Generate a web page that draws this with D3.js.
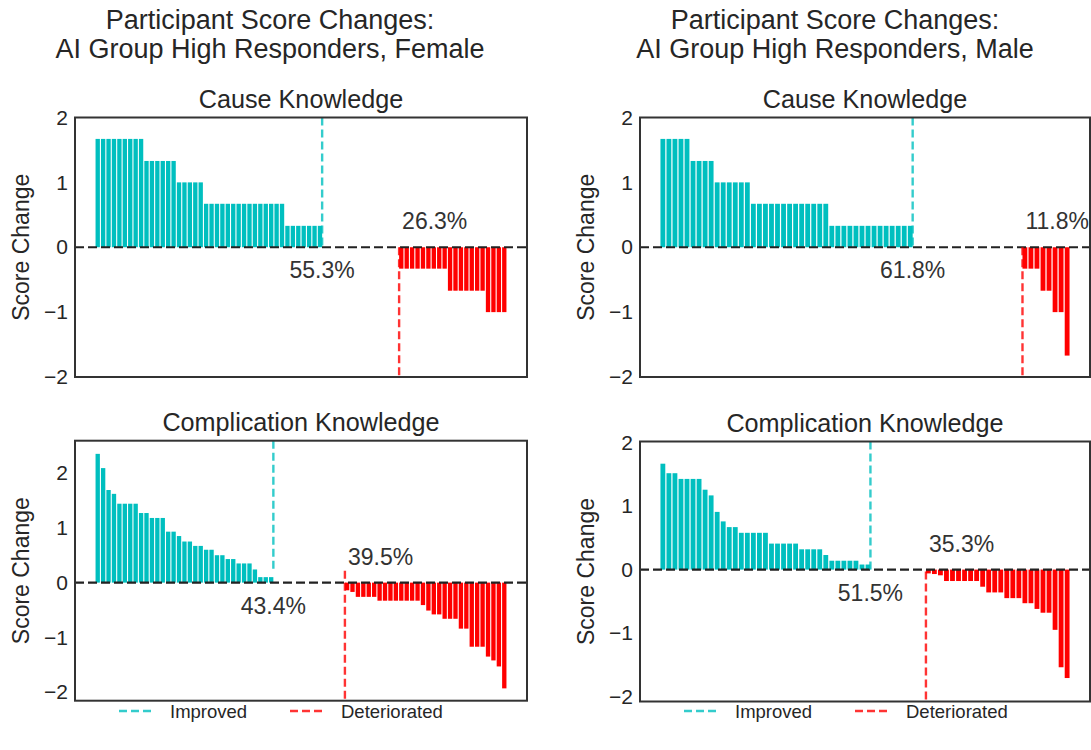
<!DOCTYPE html>
<html>
<head>
<meta charset="utf-8">
<script src="https://cdn.jsdelivr.net/npm/d3@7"></script>
<style>
  body { margin: 0; background: #fff; }
  svg { font-family: "Liberation Sans", Arial, sans-serif; }
</style>
</head>
<body>
<div id="chart"></div>
<script>
// score changes per participant, sorted high to low
var femaleCause = [
  1.67,1.67,1.67,1.67,1.67,1.67,1.67,1.67,1.67,
  1.33,1.33,1.33,1.33,1.33,1.33,
  1.0,1.0,1.0,1.0,1.0,
  0.67,0.67,0.67,0.67,0.67,0.67,0.67,0.67,0.67,0.67,0.67,0.67,0.67,0.67,0.67,
  0.33,0.33,0.33,0.33,0.33,0.33,0.33,
  0,0,0,0,0,0,0,0,0,0,0,0,0,0,
  -0.33,-0.33,-0.33,-0.33,-0.33,-0.33,-0.33,-0.33,-0.33,
  -0.67,-0.67,-0.67,-0.67,-0.67,-0.67,-0.67,
  -1.0,-1.0,-1.0,-1.0
];
var maleCause = [
  1.67,1.67,1.67,1.67,1.67,
  1.33,1.33,1.33,1.33,
  1.0,1.0,1.0,1.0,1.0,1.0,
  0.67,0.67,0.67,0.67,0.67,0.67,0.67,0.67,0.67,0.67,0.67,0.67,0.67,
  0.33,0.33,0.33,0.33,0.33,0.33,0.33,0.33,0.33,0.33,0.33,0.33,0.33,0.33,
  0,0,0,0,0,0,0,0,0,0,0,0,0,0,0,0,0,0,
  -0.33,-0.33,-0.33,-0.67,-0.67,-1.0,-1.0,-1.67
];
var femaleComp = [
  2.35,2.09,1.69,1.62,1.44,1.44,1.44,1.44,1.27,1.27,1.18,1.18,1.18,
  0.93,0.93,0.85,0.75,0.75,0.67,0.67,0.60,0.60,0.50,0.50,0.43,0.43,
  0.35,0.35,0.35,0.24,0.10,0.10,0.10,
  0,0,0,0,0,0,0,0,0,0,0,0,0,
  -0.14,-0.17,-0.26,-0.26,-0.26,-0.26,
  -0.33,-0.33,-0.33,-0.33,-0.33,-0.33,-0.33,-0.33,
  -0.41,-0.51,-0.58,-0.58,-0.66,-0.66,-0.66,-0.84,-0.84,
  -1.17,-1.17,-1.17,-1.35,-1.42,-1.53,-1.93
];
var maleComp = [
  1.67,1.52,1.52,1.43,1.43,1.43,1.43,1.26,1.17,0.91,0.76,0.67,0.67,
  0.58,0.58,0.58,0.58,0.58,0.41,0.41,0.41,0.41,0.41,
  0.32,0.32,0.32,0.32,0.23,0.14,0.14,0.14,0.14,0.14,0.08,0.08,
  0,0,0,0,0,0,0,0,0,
  -0.06,-0.07,-0.09,-0.18,-0.18,-0.18,-0.18,-0.18,-0.18,-0.27,
  -0.36,-0.36,-0.36,-0.45,-0.45,-0.45,-0.53,-0.53,-0.62,-0.68,-0.68,
  -0.95,-1.54,-1.71
];

var groupTitles = ["Participant Score Changes:", "AI Group High Responders, "];
var groupNames = ["Female", "Male"];
var panelTitles = ["Cause Knowledge", "Complication Knowledge"];
var yTicks = [-2, -1, 0, 1, 2];
var legendLabels = ["Improved", "Deteriorated"];

var W = 1091, H = 750;
var cyan = "#00bfbf", red = "#ff0000";
var textCol = "#262626";

var svg = d3.select("#chart").append("svg")
    .attr("width", W).attr("height", H);

var panels = [
  {data: femaleCause, col: 0, row: 0, x0: 75, x1: 527, y0: 117.5, y1: 377, ylim: [-2, 2]},
  {data: maleCause, col: 1, row: 0, x0: 640, x1: 1090, y0: 117.5, y1: 377, ylim: [-2, 2]},
  {data: femaleComp, col: 0, row: 1, x0: 75, x1: 527, y0: 440.7, y1: 700.7, ylim: [-2.155, 2.59]},
  {data: maleComp, col: 1, row: 1, x0: 640, x1: 1090, y0: 441.5, y1: 701.5, ylim: [-2.08, 2.02]}
];

var pct = d3.format(".1%");

panels.forEach(function(p) {
    var n = p.data.length;
    var pad = 0.05 * (n - 1 + 0.8);
    var x = d3.scaleLinear().domain([-0.4 - pad, n - 0.6 + pad]).range([p.x0, p.x1]);
    var y = d3.scaleLinear().domain(p.ylim).range([p.y1, p.y0]);
    var g = svg.append("g");

    var nPos = p.data.filter(function(v) { return v > 0; }).length;
    var nNeg = p.data.filter(function(v) { return v < 0; }).length;

    g.selectAll("rect.bar").data(p.data).enter().append("rect")
        .attr("class", "bar")
        .attr("x", function(d, i) { return x(i - 0.4); })
        .attr("width", x(0.8) - x(0))
        .attr("y", function(d) { return y(Math.max(0, d)); })
        .attr("height", function(d) { return Math.abs(y(d) - y(0)); })
        .attr("fill", function(d) { return d > 0 ? cyan : red; });

    // zero line
    g.append("line")
        .attr("x1", p.x0).attr("x2", p.x1)
        .attr("y1", y(0)).attr("y2", y(0))
        .attr("stroke", "#222").attr("stroke-width", 2.2)
        .attr("stroke-dasharray", "9,4");

    var ymid = (p.y0 + p.y1) / 2;
    var xImp = x(nPos - 1 + 0.4);
    var xDet = x(n - nNeg - 0.4);
    g.append("line")
        .attr("x1", xImp).attr("x2", xImp).attr("y1", p.y0).attr("y2", ymid)
        .attr("stroke", cyan).attr("stroke-opacity", 0.8).attr("stroke-width", 2.4)
        .attr("stroke-dasharray", "8,4");
    g.append("line")
        .attr("x1", xDet).attr("x2", xDet).attr("y1", ymid).attr("y2", p.y1)
        .attr("stroke", red).attr("stroke-opacity", 0.8).attr("stroke-width", 2.4)
        .attr("stroke-dasharray", "8,4");

    g.append("text")
        .attr("x", xImp).attr("y", y(0) + 31)
        .attr("text-anchor", "middle")
        .attr("font-size", 23).attr("fill", "#333")
        .text(pct(nPos / n));
    g.append("text")
        .attr("x", xDet + 3).attr("y", y(0) - 18)
        .attr("text-anchor", "start")
        .attr("font-size", 23).attr("fill", "#333")
        .text(pct(nNeg / n));

    // frame
    g.append("rect")
        .attr("x", p.x0).attr("y", p.y0)
        .attr("width", p.x1 - p.x0).attr("height", p.y1 - p.y0)
        .attr("fill", "none").attr("stroke", "#333").attr("stroke-width", 2);

    // y axis labels, no tick marks
    var ax = d3.axisLeft(y).tickValues(yTicks).tickSize(0).tickPadding(7)
        .tickFormat(d3.format("d"));
    g.append("g").attr("transform", "translate(" + p.x0 + ",0)").call(ax)
        .call(function(s) {
            s.select(".domain").remove();
            s.selectAll("text").attr("font-size", 21).attr("fill", textCol)
                .attr("font-family", "Liberation Sans, Arial, sans-serif");
        });

    g.append("text")
        .attr("transform", "translate(" + (p.x0 - 46) + "," + ((p.y0 + p.y1) / 2) + ") rotate(-90)")
        .attr("text-anchor", "middle")
        .attr("font-size", 23).attr("fill", textCol)
        .text("Score Change");

    g.append("text")
        .attr("x", (p.x0 + p.x1) / 2).attr("y", p.y0 - 10)
        .attr("text-anchor", "middle")
        .attr("font-size", 25.2).attr("fill", textCol)
        .text(panelTitles[p.row]);
});

// column titles and legends
[0, 1].forEach(function(c) {
    var off = c * 565;
    var cx = 270 + off;
    svg.append("text").attr("x", cx).attr("y", 29)
        .attr("text-anchor", "middle").attr("font-size", 27).attr("fill", textCol)
        .text(groupTitles[0]);
    svg.append("text").attr("x", cx).attr("y", 57.5)
        .attr("text-anchor", "middle").attr("font-size", 27).attr("fill", textCol)
        .text(groupTitles[1] + groupNames[c]);

    var items = [
        {label: legendLabels[0], color: cyan, lx: 119 + off, tx: 170 + off},
        {label: legendLabels[1], color: red, lx: 290 + off, tx: 341 + off}
    ];
    items.forEach(function(it) {
        svg.append("line")
            .attr("x1", it.lx).attr("x2", it.lx + 33)
            .attr("y1", 711).attr("y2", 711)
            .attr("stroke", it.color).attr("stroke-opacity", 0.8)
            .attr("stroke-width", 2.4).attr("stroke-dasharray", "8,4");
        svg.append("text").attr("x", it.tx).attr("y", 718)
            .attr("font-size", 18.5).attr("fill", textCol)
            .text(it.label);
    });
});
</script>
</body>
</html>
